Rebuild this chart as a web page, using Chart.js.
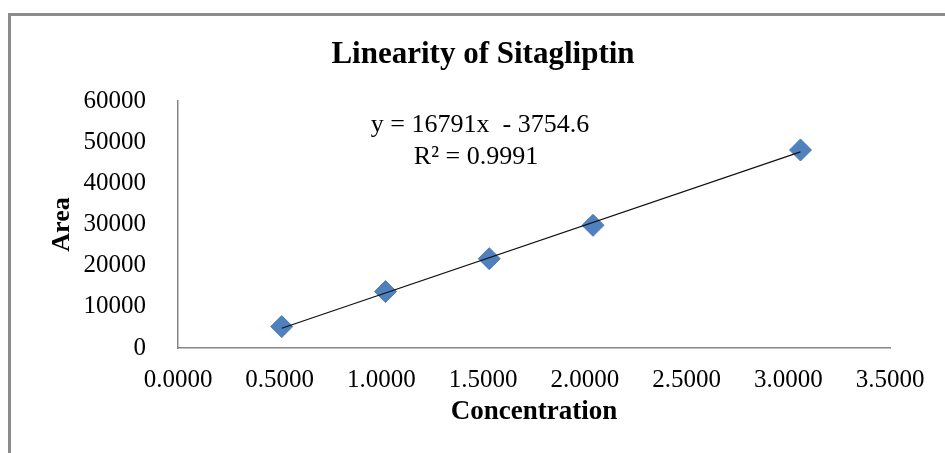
<!DOCTYPE html>
<html lang="en">
<head>
  <meta charset="UTF-8">
  <title>Linearity of Sitagliptin</title>
  <style>
    html, body { margin: 0; padding: 0; background: #fff; overflow: hidden; }
    .frame { position: absolute; left: 8px; top: 13px; width: 1000px; height: 500px; border-left: 3px solid #8c8c8c; border-top: 3px solid #8c8c8c; }
    .wrap { position: absolute; left: 0; top: 0; width: 945px; height: 453px; }
  </style>
</head>
<body>
  <div class="frame"></div>
  <div class="wrap"><canvas id="chart" width="945" height="453"></canvas></div>

  <script src="https://cdn.jsdelivr.net/npm/chart.js"></script>
  <script>
    // values
    const concentration = [0.51, 1.02, 1.53, 2.04, 3.06];
    const area = [5200, 13700, 21700, 29800, 48100];
    const trendX = [0.51, 3.06];
    const trendY = [4809, 47626];
    const chartTitle = 'Linearity of Sitagliptin';
    const equationLines = ['y = 16791x  - 3754.6', 'R\u00b2 = 0.9991'];

    const serif = '"Liberation Serif", "Times New Roman", serif';

    // title and trendline equation, placed like the Excel original
    const textLabels = {
      id: 'textLabels',
      afterDraw(chart) {
        const ctx = chart.ctx;
        ctx.save();
        ctx.fillStyle = '#000';
        ctx.textAlign = 'center';
        ctx.textBaseline = 'middle';
        ctx.font = 'bold 31px ' + serif;
        ctx.fillText(chartTitle, 483, 55);
        ctx.textBaseline = 'alphabetic';
        ctx.font = '26px ' + serif;
        ctx.fillText(equationLines[0], 480, 132);
        ctx.fillText(equationLines[1], 476, 164);
        ctx.restore();
      }
    };

    new Chart(document.getElementById('chart'), {
      type: 'scatter',
      data: {
        datasets: [
          {
            label: 'Area',
            data: concentration.map((x, i) => ({ x: x, y: area[i] })),
            pointStyle: 'rectRot',
            pointRadius: 11,
            pointHoverRadius: 11,
            backgroundColor: '#4f81bd',
            borderColor: '#4a7ab5',
            borderWidth: 1,
            order: 2
          },
          {
            label: 'Trend',
            type: 'line',
            data: trendX.map((x, i) => ({ x: x, y: trendY[i] })),
            borderColor: '#111',
            borderWidth: 1.2,
            pointRadius: 0,
            fill: false,
            order: 1
          }
        ]
      },
      options: {
        responsive: false,
        animation: false,
        layout: { padding: { left: 0, right: 55, top: 101, bottom: 0 } },
        plugins: {
          legend: { display: false },
          tooltip: { enabled: false },
          title: { display: false }
        },
        scales: {
          x: {
            type: 'linear',
            min: 0,
            max: 3.5,
            grid: { display: false },
            border: { display: true, color: '#868686', width: 1.5 },
            ticks: {
              stepSize: 0.5,
              color: '#000',
              padding: 9,
              maxRotation: 0,
              font: { family: serif, size: 25 },
              callback: v => Number(v).toFixed(4)
            },
            title: {
              display: true,
              text: 'Concentration',
              color: '#000',
              font: { family: serif, size: 27, weight: 'bold' },
              padding: { top: 25, bottom: 25 }
            },
            afterFit(scale) { scale.height = 105; }
          },
          y: {
            min: 0,
            max: 60000,
            grid: { display: false },
            border: { display: true, color: '#868686', width: 1.5 },
            ticks: {
              stepSize: 10000,
              color: '#000',
              padding: 24,
              font: { family: serif, size: 25 },
              callback: v => String(v)
            },
            title: {
              display: true,
              text: 'Area',
              color: '#000',
              font: { family: serif, size: 26, weight: 'bold' },
              padding: { top: 47, bottom: 47 }
            },
            afterFit(scale) { scale.width = 178; }
          }
        }
      },
      plugins: [textLabels]
    });
  </script>
</body>
</html>
